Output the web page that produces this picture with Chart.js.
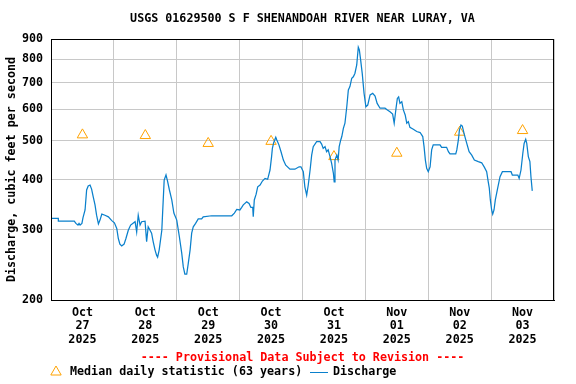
<!DOCTYPE html>
<html>
<head>
<meta charset="utf-8">
<script src="https://cdn.jsdelivr.net/npm/chart.js@4/dist/chart.umd.min.js"></script>
<style>
html,body{margin:0;padding:0;background:#fff;}
#wrap{width:576px;height:384px;}
</style>
</head>
<body>
<div id="wrap"><canvas id="c" width="576" height="384"></canvas></div>
<script>
// ---- data (hours since Oct 27 00:00, discharge cfs) ----
const hours = [0,2.79,2.8,8.89,9.5,10.3,10.7,11.1,11.8,12.2,13.0,13.6,14.2,14.9,15.5,16.1,16.8,17.4,18.1,18.7,19.4,20.6,21.9,23.2,24.2,25.1,25.7,26.3,27.0,27.9,28.6,29.5,30.4,32.1,32.7,33.3,34.0,34.6,35.9,36.5,37.1,37.8,38.4,39.0,39.7,40.3,40.7,41.3,42.3,42.6,43.2,43.9,44.4,45.2,46.1,46.9,48.0,49.0,49.9,50.5,51.1,51.8,52.4,53.1,53.7,54.3,55.2,56.2,57.5,58.1,61.3,63.9,69.0,70.0,70.9,72.1,72.8,73.4,74.7,75.6,76.3,77.0,77.2,77.6,78.3,78.9,79.8,80.7,81.7,82.7,83.6,84.2,84.5,85.0,85.8,86.2,87.0,87.8,88.7,89.6,91.2,93.1,94.7,95.4,96.3,96.9,97.6,98.2,98.9,99.5,100.1,101.4,102.7,103.3,103.9,104.6,105.2,105.8,106.5,107.1,107.8,108.1,108.4,109.1,109.6,110.0,110.6,111.0,111.6,112.2,112.9,113.5,114.1,114.8,115.4,116.0,116.7,117.3,117.7,118.2,118.8,119.5,120.2,120.9,121.8,122.8,123.7,124.5,125.6,127.5,128.4,129.4,130.4,131.0,131.7,132.2,132.7,133.2,133.9,134.5,135.2,135.8,136.4,137.0,138.3,139.6,140.9,141.9,142.4,142.9,143.4,144.0,144.7,145.3,145.9,148.5,149.1,151.0,151.7,152.3,154.5,154.9,155.5,155.9,156.5,157.0,157.8,158.7,159.6,160.6,161.6,163.1,164.4,165.4,166.3,166.9,167.3,167.7,168.2,168.6,169.1,169.6,170.5,171.4,172.3,175.6,176.1,178.2,178.7,179.4,180.1,180.6,181.2,181.6,182.2,182.8,183.2,183.7];
const discharge = [320,320,315,315,311,308,311,308,311,321,336,377,386,388,379,363,346,326,310,317,328,326,323,316,312,302,285,276,273,276,285,299,308,314,296,326,308,314,315,280,305,299,294,280,267,259,256,267,299,330,399,411,399,377,356,330,317,288,262,242,232,232,247,267,294,305,311,319,319,323,325,325,325,330,337,336,341,346,352,349,341,341,323,356,368,384,388,397,403,401,423,457,479,495,511,503,489,470,448,435,425,425,431,431,419,384,366,388,423,461,484,498,498,491,479,484,470,475,457,440,415,395,448,461,448,484,503,513,538,554,609,671,684,718,724,738,775,858,845,797,738,658,609,615,652,658,648,621,604,604,598,592,584,554,604,639,645,621,627,598,581,554,559,541,535,528,525,513,484,448,427,419,431,475,489,489,482,482,470,464,464,475,503,533,548,545,518,493,470,461,448,444,441,430,419,395,381,356,336,328,336,356,381,407,419,419,411,411,403,423,466,493,505,493,457,444,407,375];
const medianHours = [12,36,60,84,108,132,156,180];
const medianValues = [518,516,493,499,457,466,526,531];
const monthLabels = ['Oct','Oct','Oct','Oct','Oct','Nov','Nov','Nov'];
const dayLabels = ['27','28','29','30','31','01','02','03'];
const yearLabels = ['2025','2025','2025','2025','2025','2025','2025','2025'];
const yTickValues = [200,300,400,500,600,700,800,900];
const titleText = 'USGS 01629500 S F SHENANDOAH RIVER NEAR LURAY, VA';
const yTitleText = 'Discharge, cubic feet per second';
const provisionalText = '---- Provisional Data Subject to Revision ----';
const medianLegend = 'Median daily statistic (63 years)';
const dischargeLegend = 'Discharge';

const FONT = '"DejaVu Sans Mono", "Liberation Mono", monospace';
const FSIZE = 11.7;
const BLUE = '#0a80cc';
const ORANGE = '#ffa200';
const GRID = '#c8c8c8';

const extras = {
  id: 'extras',
  afterDraw(chart) {
    const ctx = chart.ctx;
    const a = chart.chartArea;
    ctx.save();
    // frame
    ctx.strokeStyle = '#000';
    ctx.lineWidth = 1;
    ctx.strokeRect(Math.round(a.left) + 0.5, Math.round(a.top) + 0.5, Math.round(a.right - a.left) - 1, Math.round(a.bottom - a.top));
    ctx.font = 'bold ' + FSIZE + 'px ' + FONT;
    ctx.textBaseline = 'middle';
    // title
    ctx.fillStyle = '#000';
    ctx.textAlign = 'center';
    ctx.fillText(titleText, (a.left + a.right) / 2, 19);
    // provisional
    ctx.fillStyle = '#ff0000';
    ctx.fillText(provisionalText, (a.left + a.right) / 2, 358);
    // legend
    ctx.textAlign = 'left';
    const ly = 372;
    ctx.strokeStyle = ORANGE;
    ctx.lineWidth = 1;
    ctx.beginPath();
    ctx.moveTo(56, ly - 6);
    ctx.lineTo(61.2, ly + 3);
    ctx.lineTo(50.8, ly + 3);
    ctx.closePath();
    ctx.stroke();
    ctx.fillStyle = '#000';
    ctx.fillText(medianLegend, 70, ly);
    ctx.strokeStyle = BLUE;
    ctx.beginPath();
    ctx.moveTo(310, ly + 0.5);
    ctx.lineTo(328, ly + 0.5);
    ctx.stroke();
    ctx.fillText(dischargeLegend, 333, ly);
    ctx.restore();
  }
};

new Chart(document.getElementById('c'), {
  data: {
    datasets: [
      {
        type: 'line',
        label: dischargeLegend,
        data: hours.map((h, i) => ({x: h, y: discharge[i]})),
        borderColor: BLUE,
        borderWidth: 1.25,
        pointRadius: 0,
        tension: 0,
        fill: false,
        order: 1
      },
      {
        type: 'scatter',
        label: medianLegend,
        data: medianHours.map((h, i) => ({x: h, y: medianValues[i]})),
        pointStyle: 'triangle',
        pointRadius: 6,
        pointBorderWidth: 1,
        pointBorderColor: ORANGE,
        pointBackgroundColor: 'rgba(0,0,0,0)',
        order: 2
      }
    ]
  },
  options: {
    responsive: false,
    animation: false,
    devicePixelRatio: 1,
    layout: {padding: {left: 0, right: 22, top: 39, bottom: 34}},
    plugins: {legend: {display: false}, title: {display: false}, tooltip: {enabled: false}},
    scales: {
      x: {
        type: 'linear',
        min: 0,
        max: 192,
        afterBuildTicks(scale) {
          const t = [];
          for (let h = 0; h <= 192; h += 12) t.push({value: h});
          scale.ticks = t;
        },
        afterFit(scale) { scale.height = 50; },
        grid: {
          drawTicks: false,
          color: (c) => (c.tick && c.tick.value % 24 === 0) ? GRID : 'rgba(0,0,0,0)',
          lineWidth: 1
        },
        border: {display: true, color: '#000'},
        ticks: {
          autoSkip: false,
          maxRotation: 0,
          minRotation: 0,
          padding: 6,
          color: '#000',
          font: {family: FONT, size: FSIZE, weight: 'bold', lineHeight: 1.15},
          callback(v) {
            if (v % 24 !== 12) return '';
            const i = (v - 12) / 24;
            return [monthLabels[i], dayLabels[i], yearLabels[i]];
          }
        }
      },
      y: {
        type: 'logarithmic',
        min: 200,
        max: 900,
        afterBuildTicks(scale) { scale.ticks = yTickValues.map(v => ({value: v})); },
        afterFit(scale) { scale.width = 51; },
        grid: {drawTicks: false, color: GRID, lineWidth: 1},
        border: {display: true, color: '#000'},
        ticks: {
          padding: 8,
          color: '#000',
          font: {family: FONT, size: FSIZE, weight: 'bold'},
          callback(v) { return String(v); }
        },
        title: {
          display: true,
          text: yTitleText,
          color: '#000',
          font: {family: FONT, size: FSIZE, weight: 'bold'},
          padding: {top: 5, bottom: 0}
        }
      }
    }
  },
  plugins: [extras]
});
</script>
</body>
</html>
